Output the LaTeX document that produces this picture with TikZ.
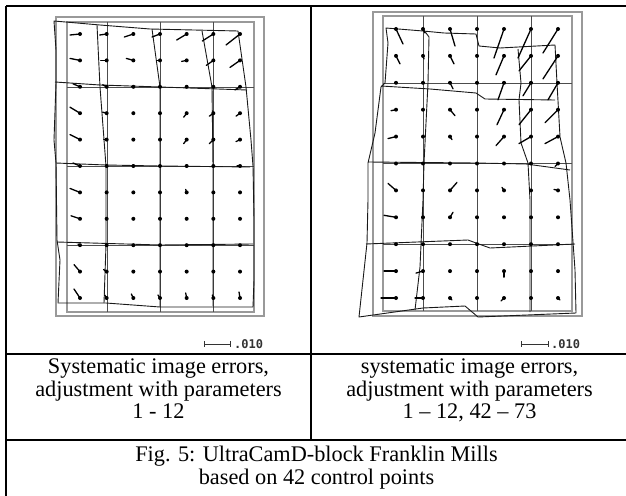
\documentclass[tikz,border=0pt]{standalone}
\usepackage{fontspec}
\setmainfont{Liberation Serif}
\newfontfamily\scalefont{DejaVu Sans Mono}
\begin{document}
\begin{tikzpicture}[x=1pt,y=-1pt,
  tableline/.style={line width=2.2pt,black},
  frameline/.style={line width=1.1pt,gray!80},
  gridline/.style={line width=0.9pt,black!70},
  distline/.style={line width=0.9pt,black!90,line join=round},
  vecline/.style={line width=1.3pt,black,line cap=round},
  celltext/.style={anchor=base,inner sep=0pt,font=\fontsize{22.3}{23}\selectfont},
  scaletext/.style={anchor=base west,inner sep=0pt,font=\scalefont\bfseries\fontsize{12}{12}\selectfont,black!80}]
\useasboundingbox (0,0) rectangle (626,495);
% table
\coordinate (tl) at (6,6); \coordinate (tr) at (628,6);
\coordinate (ml) at (6,354); \coordinate (mr) at (628,354);
\coordinate (cl) at (6,440); \coordinate (cr) at (628,440);
\coordinate (bl) at (6,497); \coordinate (mt) at (311,6); \coordinate (mb) at (311,440);
\draw[tableline] (tl) -- (tr);
\draw[tableline] (ml) -- (mr);
\draw[tableline] (cl) -- (cr);
\draw[tableline] (tl) -- (bl);
\draw[tableline] (mt) -- (mb);
% ---------------- left plot
\draw[frameline] (56,17) rectangle (264,316);
\draw[frameline] (67,22) rectangle (254,312);
\foreach \gx in {107,160,213} \draw[gridline] (\gx,22) -- (\gx,312);
\foreach \gy in {87,166,245} \draw[gridline] (67,\gy) -- (254,\gy);
\draw[distline] (54,21) -- (100,25) -- (150,29) -- (238,31) -- (246,87) -- (251,140) -- (253,166) -- (254,219) -- (254,280) -- (253,307) -- (160,307) -- (106,303) -- (58,303) -- (60,260) -- (57,240) -- (56,163) -- (54,140) -- (56,83) -- (56,50) -- cycle;
\draw[distline] (55,82) -- (100,85) -- (160,87) -- (247,90);
\draw[distline] (56,163) -- (106,165) -- (160,166) -- (250,167);
\draw[distline] (57,242) -- (160,245) -- (253,244);
\draw[distline] (97,25) -- (100,87) -- (106,166) -- (106,245) -- (104,303);
\draw[distline] (152,29) -- (160,87) -- (160,166) -- (160,307);
\draw[distline] (202,31) -- (212,87) -- (213,166) -- (213,306);
\foreach \c in {1,...,7} \foreach \r in {1,...,11}
  \fill ({80+26.67*(\c-1)},{34+26.4*(\r-1)}) circle (2);
\foreach \c/\r/\dx/\dy in {1/1/-10/1,2/1/-7/1,3/1/-9/3,4/1/-8/3,5/1/-10/6,6/1/-11/7,7/1/-14/11,
  1/2/-10/-2,2/2/-6/0,3/2/-7/-2,4/2/-3/0,5/2/-5/1,6/2/-7/5,7/2/-10/7,
  1/3/-7/-3,2/3/-4/-2,3/3/-2/0,7/3/-5/3,
  1/4/-10/-6,2/4/-4/-1,5/4/-3/4,6/4/-4/3,7/4/-4/3,
  1/5/-10/-5,2/5/-3/0,5/5/-3/4,6/5/-4/4,7/5/-4/2,
  1/6/-7/-3,7/6/-3/0,1/7/-10/-4,5/7/-1/-3,1/8/-9/-3,1/9/-2/-1,
  1/10/-6/-7,2/10/-3/-2,
  1/11/-6/-9,2/11/-2/-3,3/11/-2/-4,4/11/-2/-3,5/11/-1/-5,6/11/-1/-3,7/11/-1/-6}
  \draw[vecline] ({80+26.67*(\c-1)},{34+26.4*(\r-1)}) -- ++(\dx,\dy);
% scale bar left
\coordinate (sl1) at (204,344); \coordinate (sl2) at (230,344);
\draw[line width=0.9pt,black!80] (sl1) -- (sl2) (204,341) -- (204,347) (230,341) -- (230,347);
\node[scaletext] (lab1) at (234,348) {.010};
% ---------------- right plot
\draw[frameline] (373,12) rectangle (582,316);
\draw[frameline] (383,16) rectangle (572,311);
\foreach \gx in {423,477,531} \draw[gridline] (\gx,16) -- (\gx,311);
\foreach \gy in {83,163,244} \draw[gridline] (383,\gy) -- (572,\gy);
\draw[distline] (386,28) -- (423,31) -- (444,33) -- (476,34) -- (479,46) -- (500,48) -- (555,45) -- (557,83) -- (560,137) -- (566,163) -- (570,200) -- (575,270) -- (576,313) -- (478,317) -- (465,306) -- (423,308) -- (359,317) -- (367,243) -- (368,200) -- (368,163) -- (375,133) -- (381,87) -- (385,83) -- (388,43) -- cycle;
\draw[distline] (381,86) -- (430,89) -- (476,93) -- (485,99) -- (555,100);
\draw[distline] (368,162) -- (476,163) -- (526,164) -- (570,170);
\draw[distline] (366,244) -- (468,240) -- (476,243) -- (490,248) -- (575,244);
\draw[distline] (423,29) -- (429,37) -- (428,83) -- (424,163) -- (423,200) -- (420,267) -- (415,310);
\draw[distline] (518,49) -- (521,83) -- (519,100) -- (521,143) -- (528,163) -- (530,200) -- (530,312);
\foreach \c in {1,...,7} \foreach \r in {1,...,11}
  \fill ({396+27*(\c-1)},{29+26.9*(\r-1)}) circle (2);
\foreach \c/\r/\dx/\dy in {1/1/7/15,2/1/2/4,3/1/5/17,5/1/-10/29,6/1/-13/29,7/1/-15/24,
  1/2/4/8,2/2/1/3,3/2/4/8,5/2/-8/19,6/2/-12/15,7/2/-15/23,
  3/3/3/6,5/3/-6/17,6/3/-8/13,7/3/-10/17,
  1/4/-5/1,3/4/5/6,5/4/-7/15,6/4/-12/15,7/4/-13/13,
  1/5/-8/2,3/5/2/3,5/5/-8/9,6/5/-12/7,7/5/-13/7,
  7/6/-3/3,1/7/-8/-7,3/7/7/-8,5/7/-2/-3,7/7/-4/-1,
  1/8/-12/-2,3/8/3/-5,
  1/10/-12/0,2/10/-7/2,5/10/0/6,
  1/11/-15/0,2/11/-8/0,3/11/2/2,5/11/-3/3,7/11/2/2}
  \draw[vecline] ({396+27*(\c-1)},{29+26.9*(\r-1)}) -- ++(\dx,\dy);
% scale bar right
\coordinate (sr1) at (521,344); \coordinate (sr2) at (548,344);
\draw[line width=0.9pt,black!80] (sr1) -- (sr2) (521,341) -- (521,347) (548,341) -- (548,347);
\node[scaletext] (lab2) at (551,348) {.010};
% ---------------- texts
\node[celltext] (a1) at (158.5,373) {Systematic image errors,};
\node[celltext] (a2) at (158.5,396) {adjustment with parameters};
\node[celltext] (a3) at (158.5,418) {1 - 12};
\node[celltext] (b1) at (469.5,373) {systematic image errors,};
\node[celltext] (b2) at (469.5,396) {adjustment with parameters};
\node[celltext] (b3) at (469.5,418) {1 – 12, 42 – 73};
\node[celltext] (c1) at (316.5,461) {Fig. 5: UltraCamD-block Franklin Mills};
\node[celltext] (c2) at (316.5,484) {based on 42 control points};
\end{tikzpicture}
\end{document}
